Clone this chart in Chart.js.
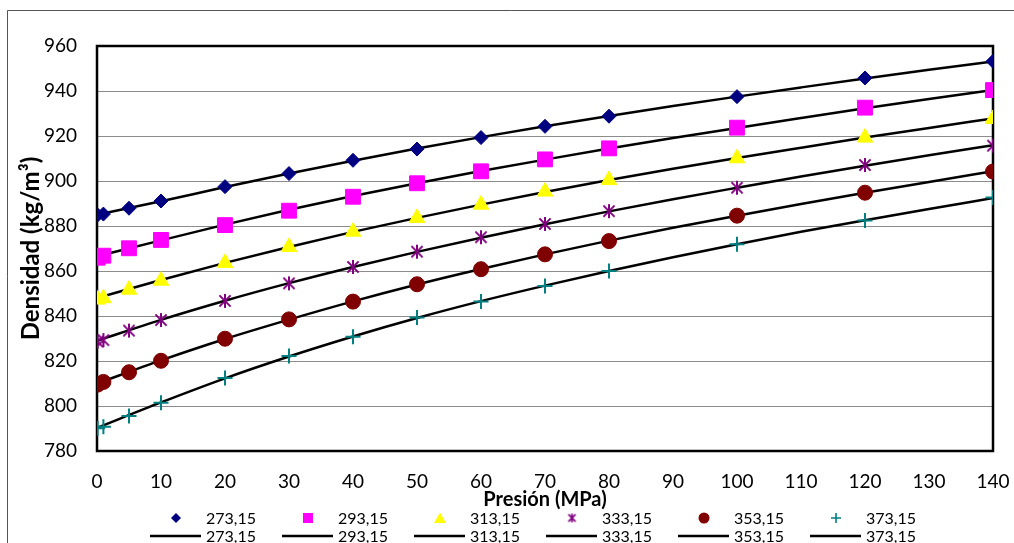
<!DOCTYPE html>
<html lang="es">
<head>
<meta charset="UTF-8" />
<title>Densidad vs Presión</title>
<script src="https://cdn.jsdelivr.net/npm/chart.js"></script>
<style>
  body { margin: 0; background: #fff; }
  #grafica { display: block; }
</style>
</head>
<body>
<canvas id="grafica" width="1014" height="543"></canvas>
<script>
// Presión (MPa) de los puntos medidos
const presiones = [0.1, 1, 5, 10, 20, 30, 40, 50, 60, 70, 80, 100, 120, 140];
// Densidad medida (kg/m3) por temperatura (K)
const dens273 = [884.9, 885.3, 887.9, 891.1, 897.5, 903.3, 909.2, 914.2, 919.3, 924.3, 928.8, 937.5, 945.8, 953.2];
const dens293 = [865.9, 866.8, 870.1, 873.8, 880.4, 886.8, 893.0, 899.0, 904.3, 909.6, 914.5, 923.7, 932.6, 940.4];
const dens313 = [847.3, 847.9, 851.7, 855.7, 863.6, 870.7, 877.5, 883.6, 889.5, 895.3, 900.4, 910.1, 919.3, 927.6];
const dens333 = [828.6, 829.3, 833.5, 838.2, 846.7, 854.5, 861.8, 868.6, 875.0, 880.9, 886.6, 897.0, 907.1, 915.7];
const dens353 = [809.5, 810.7, 815.0, 820.1, 829.9, 838.5, 846.4, 854.1, 860.8, 867.4, 873.3, 884.6, 894.8, 904.2];
const dens373 = [790.1, 790.8, 795.6, 801.5, 812.4, 822.2, 830.8, 839.3, 846.5, 853.3, 860.0, 871.9, 882.4, 892.7];

// Curvas de ajuste
const presAjuste = [0, 10, 20, 30, 40, 50, 60, 70, 80, 90, 100, 110, 120, 130, 140];
const ajuste273 = [885.0, 891.0, 897.3, 903.3, 909.0, 914.4, 919.5, 924.3, 928.9, 933.3, 937.5, 941.6, 945.6, 949.4, 953.1];
const ajuste293 = [866.5, 873.6, 880.6, 887.2, 893.3, 899.0, 904.4, 909.5, 914.4, 919.1, 923.6, 928.0, 932.3, 936.4, 940.4];
const ajuste313 = [848.0, 856.0, 863.6, 870.7, 877.4, 883.6, 889.5, 895.1, 900.4, 905.4, 910.2, 914.8, 919.3, 923.6, 927.8];
const ajuste333 = [829.0, 838.3, 846.8, 854.6, 861.8, 868.5, 874.8, 880.8, 886.5, 891.9, 897.0, 902.0, 906.8, 911.4, 915.9];
const ajuste353 = [810.0, 820.3, 829.8, 838.4, 846.5, 854.0, 860.9, 867.4, 873.5, 879.2, 884.6, 889.8, 894.8, 899.6, 904.3];
const ajuste373 = [790.3, 801.6, 812.3, 822.0, 830.9, 839.1, 846.6, 853.5, 860.0, 866.1, 871.9, 877.4, 882.6, 887.6, 892.4];

const temperaturas = ["273,15", "293,15", "313,15", "333,15", "353,15", "373,15"];
const medidas = [dens273, dens293, dens313, dens333, dens353, dens373];
const ajustes = [ajuste273, ajuste293, ajuste313, ajuste333, ajuste353, ajuste373];

const colores = ["#000080", "#ff00ff", "#ffff00", "#800080", "#800000", "#008080"];
const marcas = ["rectRot", "rect", "triangle", "asterisco", "circle", "cross"];
const radios = [7, 10.5, 9, 7, 7.5, 7.5];

const fuente = "Lato, 'DejaVu Sans', sans-serif";

// asterisco de 6 brazos (vertical + aspa)
function hacerAsterisco(size, color, lw) {
  const c = document.createElement("canvas");
  c.width = size; c.height = size;
  const g = c.getContext("2d");
  const m = size / 2, r = size / 2 - 1;
  g.strokeStyle = color;
  g.lineWidth = lw;
  g.beginPath();
  g.moveTo(m, m - r); g.lineTo(m, m + r);
  g.moveTo(m - r * 0.8, m - r * 0.8); g.lineTo(m + r * 0.8, m + r * 0.8);
  g.moveTo(m + r * 0.8, m - r * 0.8); g.lineTo(m - r * 0.8, m + r * 0.8);
  g.stroke();
  return c;
}
const asteriscoGrande = hacerAsterisco(16, "#800080", 2);
const asteriscoChico = hacerAsterisco(11, "#800080", 1.6);

function aPuntos(xs, ys) {
  return xs.map((x, i) => ({ x: x, y: ys[i] }));
}

const datasets = [];
temperaturas.forEach((t, i) => {
  datasets.push({
    label: t,
    data: aPuntos(presiones, medidas[i]),
    showLine: false,
    pointStyle: marcas[i] === "asterisco" ? asteriscoGrande : marcas[i],
    pointRadius: radios[i],
    pointBackgroundColor: colores[i],
    pointBorderColor: colores[i],
    pointBorderWidth: marcas[i] === "cross" ? 2 : 1,
    order: 1
  });
});
temperaturas.forEach((t, i) => {
  datasets.push({
    label: t,
    data: aPuntos(presAjuste, ajustes[i]),
    showLine: true,
    borderColor: "#000",
    borderWidth: 2.5,
    pointRadius: 0,
    cubicInterpolationMode: "monotone",
    order: 2
  });
});

// fondo y marco exterior
const marcoExterior = {
  id: "marcoExterior",
  beforeDraw(chart) {
    const ctx = chart.ctx;
    ctx.save();
    ctx.fillStyle = "#fff";
    ctx.fillRect(0, 0, chart.width, chart.height);
    ctx.lineWidth = 1;
    ctx.strokeStyle = "#555";
    ctx.beginPath();
    ctx.moveTo(7.5, chart.height);
    ctx.lineTo(7.5, 10.5);
    ctx.lineTo(chart.width, 10.5);
    ctx.stroke();
    ctx.restore();
  }
};

// recuadro del área de trazado
const marcoGrafico = {
  id: "marcoGrafico",
  beforeDatasetsDraw(chart) {
    const { ctx, chartArea: a } = chart;
    ctx.save();
    ctx.strokeStyle = "#000";
    ctx.lineWidth = 2.5;
    ctx.strokeRect(a.left, a.top, a.right - a.left, a.bottom - a.top);
    ctx.restore();
  }
};

function dibujarMarca(ctx, tipo, x, y, color) {
  ctx.fillStyle = color;
  ctx.strokeStyle = color;
  ctx.beginPath();
  if (tipo === "rectRot") {
    ctx.moveTo(x, y - 5); ctx.lineTo(x + 5, y); ctx.lineTo(x, y + 5); ctx.lineTo(x - 5, y);
    ctx.closePath(); ctx.fill();
  } else if (tipo === "rect") {
    ctx.rect(x - 5, y - 5, 10, 10); ctx.fill();
  } else if (tipo === "triangle") {
    ctx.moveTo(x, y - 5.5); ctx.lineTo(x + 6, y + 5); ctx.lineTo(x - 6, y + 5);
    ctx.closePath(); ctx.fill();
  } else if (tipo === "asterisco") {
    ctx.drawImage(asteriscoChico, x - 5.5, y - 5.5);
  } else if (tipo === "circle") {
    ctx.arc(x, y, 5.5, 0, Math.PI * 2); ctx.fill();
  } else if (tipo === "cross") {
    ctx.lineWidth = 1.6;
    ctx.moveTo(x - 5, y); ctx.lineTo(x + 5, y);
    ctx.moveTo(x, y - 5); ctx.lineTo(x, y + 5);
    ctx.stroke();
  }
}

// leyenda en dos filas: marcas arriba, curvas abajo
const leyenda = {
  id: "leyenda",
  afterDraw(chart) {
    const ctx = chart.ctx;
    ctx.save();
    ctx.font = "16px " + fuente;
    ctx.textBaseline = "middle";
    ctx.textAlign = "left";
    temperaturas.forEach((t, i) => {
      const cx = 176 + i * 132;
      dibujarMarca(ctx, marcas[i], cx, 518, colores[i]);
      ctx.fillStyle = "#000";
      ctx.fillText(t, cx + 30, 519);
      ctx.strokeStyle = "#000";
      ctx.lineWidth = 2.5;
      ctx.beginPath();
      ctx.moveTo(cx - 26, 536);
      ctx.lineTo(cx + 25, 536);
      ctx.stroke();
      ctx.fillStyle = "#000";
      ctx.fillText(t, cx + 30, 537);
    });
    ctx.restore();
  }
};

new Chart(document.getElementById("grafica"), {
  type: "scatter",
  data: { datasets: datasets },
  options: {
    responsive: false,
    animation: false,
    layout: { padding: { left: 0, top: 46, right: 21, bottom: 0 } },
    plugins: {
      legend: { display: false },
      tooltip: { enabled: false }
    },
    scales: {
      x: {
        type: "linear",
        min: 0,
        max: 140,
        afterFit(scale) {
          scale.height = 92;
          scale.paddingLeft = 0;
          scale.paddingRight = 0;
        },
        ticks: { stepSize: 10, color: "#000", font: { family: fuente, size: 19 }, padding: 19 },
        grid: { display: false, drawTicks: false },
        border: { display: false },
        title: {
          display: true,
          text: "Presión (MPa)",
          color: "#000",
          font: { family: fuente, size: 20, weight: "bold" },
          padding: { top: 0, bottom: 31 }
        }
      },
      y: {
        min: 780,
        max: 960,
        afterFit(scale) {
          scale.width = 97;
          scale.paddingTop = 0;
          scale.paddingBottom = 0;
        },
        ticks: { stepSize: 20, color: "#000", font: { family: fuente, size: 19 }, padding: 20 },
        grid: { color: "#8c8c8c", lineWidth: 1, drawTicks: false },
        border: { display: false },
        title: {
          display: true,
          text: "Densidad (kg/m³)",
          color: "#000",
          font: { family: fuente, size: 24, weight: "bold" },
          padding: { top: 17, bottom: 0 }
        }
      }
    }
  },
  plugins: [marcoExterior, marcoGrafico, leyenda]
});
</script>
</body>
</html>
